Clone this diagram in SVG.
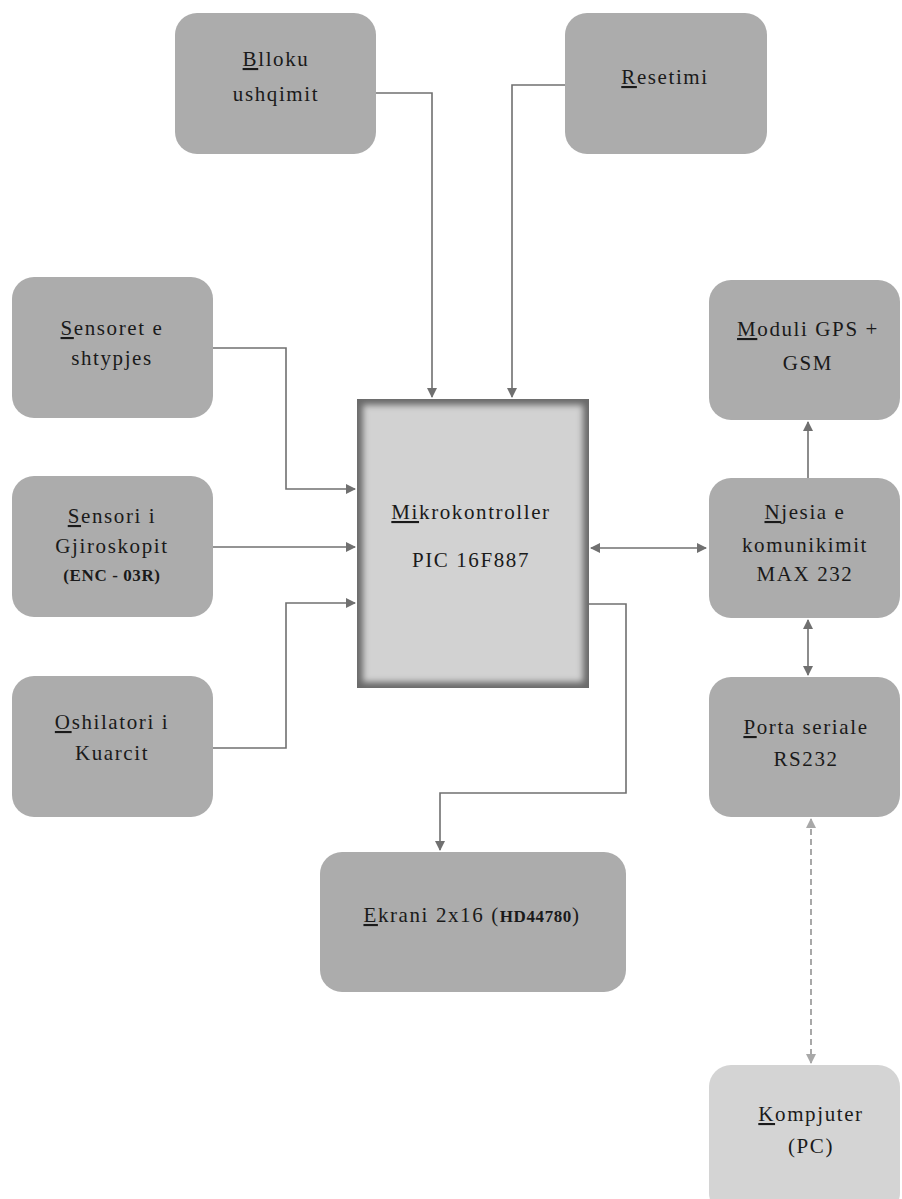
<svg xmlns="http://www.w3.org/2000/svg" width="902" height="1199" viewBox="0 0 902 1199">
<style>
.box{fill:#acacac}
.light{fill:#d4d4d4}
.t{font-family:"Liberation Serif","DejaVu Serif",serif;font-size:21px;letter-spacing:1.6px;fill:#1a1a1a;text-anchor:middle}
.s{font-size:17px;font-weight:bold;letter-spacing:0.6px}
.u{text-decoration:underline}
.c{fill:none;stroke:#707070;stroke-width:1.6}
.d{fill:none;stroke:#a8a8a8;stroke-width:2;stroke-dasharray:6 4}
</style>
<defs>
<marker id="a" markerWidth="10" markerHeight="10" refX="9" refY="5" orient="auto-start-reverse" markerUnits="userSpaceOnUse"><path d="M0,0 L10,5 L0,10 z" fill="#707070"/></marker>
<marker id="al" markerWidth="10" markerHeight="10" refX="9" refY="5" orient="auto-start-reverse" markerUnits="userSpaceOnUse"><path d="M0,0 L10,5 L0,10 z" fill="#a8a8a8"/></marker>
<filter id="blur" x="-10%" y="-10%" width="120%" height="120%"><feGaussianBlur stdDeviation="3"/></filter>
<clipPath id="mc"><rect x="357" y="399" width="232" height="289"/></clipPath>
</defs>

<g id="connectors">
<path class="c" d="M375,93 H432 V397" marker-end="url(#a)"/>
<path class="c" d="M565,85 H512 V397" marker-end="url(#a)"/>
<path class="c" d="M213,348 H286 V489 H355" marker-end="url(#a)"/>
<path class="c" d="M213,547 H355" marker-end="url(#a)"/>
<path class="c" d="M213,748 H286 V603 H355" marker-end="url(#a)"/>
<path class="c" d="M591,548 H706" marker-start="url(#a)" marker-end="url(#a)"/>
<path class="c" d="M589,604 H626 V793 H440 V850" marker-end="url(#a)"/>
<path class="c" d="M808,478 V422" marker-end="url(#a)"/>
<path class="c" d="M808,620 V675" marker-start="url(#a)" marker-end="url(#a)"/>
<path class="d" d="M811,819 V1063" marker-start="url(#al)" marker-end="url(#al)"/>
</g>

<g id="blloku">
<rect class="box" x="175" y="13" width="201" height="141" rx="22"/>
<text class="t" x="276" y="66"><tspan class="u">B</tspan>lloku</text>
<text class="t" x="276" y="101">ushqimit</text>
</g>

<g id="resetimi">
<rect class="box" x="565" y="13" width="202" height="141" rx="22"/>
<text class="t" x="665" y="84"><tspan class="u">R</tspan>esetimi</text>
</g>

<g id="sensoret">
<rect class="box" x="12" y="277" width="201" height="141" rx="22"/>
<text class="t" x="112" y="335"><tspan class="u">S</tspan>ensoret e</text>
<text class="t" x="112" y="365">shtypjes</text>
</g>

<g id="sensori">
<rect class="box" x="12" y="476" width="201" height="141" rx="22"/>
<text class="t" x="112" y="523"><tspan class="u">S</tspan>ensori i</text>
<text class="t" x="112" y="553">Gjiroskopit</text>
<text class="t s" x="112" y="581">(ENC - 03R)</text>
</g>

<g id="oshilatori">
<rect class="box" x="12" y="676" width="201" height="141" rx="22"/>
<text class="t" x="112" y="729"><tspan class="u">O</tspan>shilatori i</text>
<text class="t" x="112" y="760">Kuarcit</text>
</g>

<g id="mikrokontroller">
<rect x="357" y="399" width="232" height="289" fill="#6a6a6a"/>
<g clip-path="url(#mc)"><rect x="363" y="405" width="220" height="277" fill="#d2d2d2" filter="url(#blur)"/></g>
<text class="t" x="471" y="519"><tspan class="u">Mi</tspan>krokontroller</text>
<text class="t" x="471" y="567">PIC 16F887</text>
</g>

<g id="moduli">
<rect class="box" x="709" y="280" width="191" height="140" rx="22"/>
<text class="t" x="808" y="336"><tspan class="u">M</tspan>oduli GPS +</text>
<text class="t" x="808" y="370">GSM</text>
</g>

<g id="njesia">
<rect class="box" x="709" y="478" width="191" height="140" rx="22"/>
<text class="t" x="805" y="519"><tspan class="u">N</tspan>jesia e</text>
<text class="t" x="805" y="552">komunikimit</text>
<text class="t" x="805" y="581">MAX 232</text>
</g>

<g id="porta">
<rect class="box" x="709" y="677" width="191" height="140" rx="22"/>
<text class="t" x="806" y="734"><tspan class="u">P</tspan>orta seriale</text>
<text class="t" x="806" y="766">RS232</text>
</g>

<g id="ekrani">
<rect class="box" x="320" y="852" width="306" height="140" rx="22"/>
<text class="t" x="472" y="922"><tspan class="u">E</tspan>krani 2x16 (<tspan class="s">HD44780</tspan>)</text>
</g>

<g id="kompjuter">
<rect class="light" x="709" y="1065" width="191" height="150" rx="22"/>
<text class="t" x="811" y="1121"><tspan class="u">K</tspan>ompjuter</text>
<text class="t" x="811" y="1153">(PC)</text>
</g>
</svg>
